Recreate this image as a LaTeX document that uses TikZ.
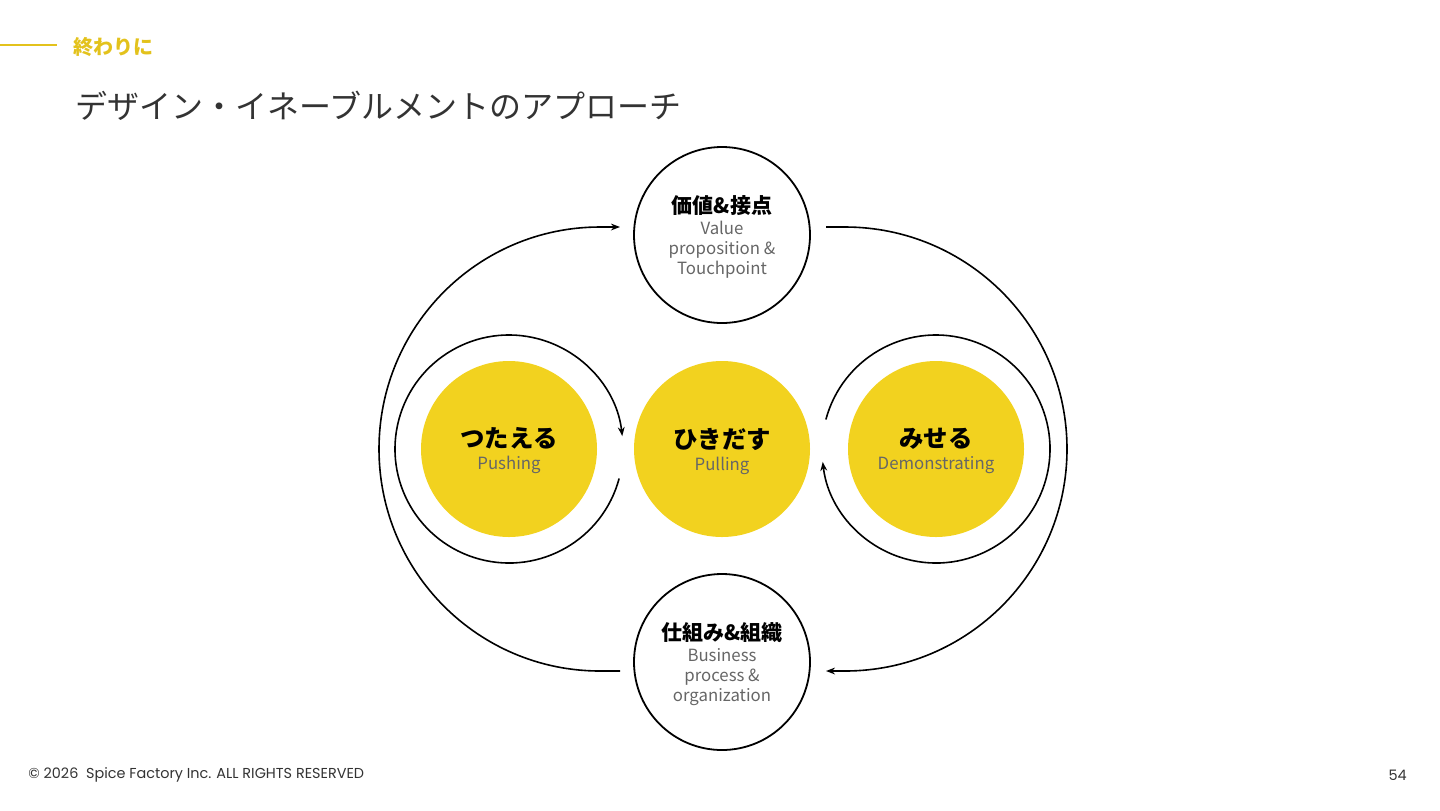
\documentclass[tikz,border=0pt]{standalone}
\usepackage{fontspec}
\setmainfont{Noto Sans CJK JP}
\newfontfamily\pop{Poppins}
\usetikzlibrary{arrows.meta,calc}
\definecolor{ylw}{HTML}{F2D21F}
\definecolor{ylwtxt}{HTML}{E3C21C}
\definecolor{ttl}{HTML}{333333}
\definecolor{sub}{HTML}{666666}
\newcommand{\jpl}[1]{{\fontsize{10.5}{12}\selectfont\bfseries\color{black}#1}}
\newcommand{\jpL}[1]{{\fontsize{12.2}{14}\selectfont\bfseries\color{black}#1}}
\begin{document}
\begin{tikzpicture}[x=0.5pt,y=-0.5pt,
  ring/.style={circle,draw=black,line width=0.9pt,minimum size=88pt,inner sep=0pt},
  disc/.style={circle,fill=ylw,minimum size=88pt,inner sep=0pt},
  txt/.style={inner sep=0pt,align=center,font=\fontsize{8.4}{10}\selectfont,text=sub},
  conn/.style={line width=0.8pt,draw=black},
  tip/.style={-{Stealth[length=4.5pt,width=3.4pt]}}]
\useasboundingbox (0,0) rectangle (1440,810);
% header
\draw[ylwtxt,line width=0.6pt] (0,45) -- (57,45);
\node[anchor=west,inner sep=0pt,text=ylwtxt,font=\fontsize{10}{11}\selectfont\bfseries] (sec) at (73,47) {終わりに};
\node[anchor=west,inner sep=0pt,text=ttl,font=\fontsize{16}{18}\selectfont] (title) at (75,106) {デザイン・イネーブルメントのアプローチ};
% circles
\node[ring] (top) at (722,235) {};
\node[ring] (bot) at (722,662) {};
\node[disc] (push) at (509,449) {};
\node[disc] (pull) at (722,449) {};
\node[disc] (demo) at (936,449) {};
% labels
\node[txt] (topT) at ($(top)+(0,2)$) {\jpl{価値\&接点}\\[0.5pt]Value\\proposition \&\\Touchpoint};
\node[txt] (botT) at ($(bot)+(0,2)$) {\jpl{仕組み\&組織}\\[0.5pt]Business\\process \&\\organization};
\node[txt] (pushT) at ($(push)+(0,2)$) {\jpL{つたえる}\\[1pt]Pushing};
\node[txt] (pullT) at ($(pull)+(0,2)$) {\jpL{ひきだす}\\[1pt]Pulling};
\node[txt] (demoT) at ($(demo)+(0,2)$) {\jpL{みせる}\\[1pt]Demonstrating};
% connector ends
\coordinate (oL1) at (620,671);
\coordinate (oL2) at (620,227);
\coordinate (oR1) at (826,227);
\coordinate (oR2) at (826,671);
\coordinate (iL1) at ($(push)+(15:114)$);
\coordinate (iR1) at ($(demo)+(195:114)$);
% outer loops
\draw[conn,tip] (oL1) -- (600,671) arc[start angle=90,end angle=270,x radius=221,y radius=222] -- (oL2);
\draw[conn,tip] (oR1) -- (845,227) arc[start angle=-90,end angle=90,x radius=222,y radius=222] -- (oR2);
% inner loops
\draw[conn,tip] (iL1) arc[start angle=15,end angle=353.5,radius=114];
\draw[conn,tip] (iR1) arc[start angle=195,end angle=533.5,radius=114];
% footer
\node[anchor=west,inner sep=0pt,text=ttl,font=\pop\fontsize{7.2}{8}\selectfont] (copy) at (28,775) {© 2026\ \ Spice Factory Inc. ALL RIGHTS RESERVED};
\node[anchor=east,inner sep=0pt,text=ttl,font=\pop\fontsize{7.2}{8}\selectfont] (page) at (1407,775) {54};
\end{tikzpicture}
\end{document}
